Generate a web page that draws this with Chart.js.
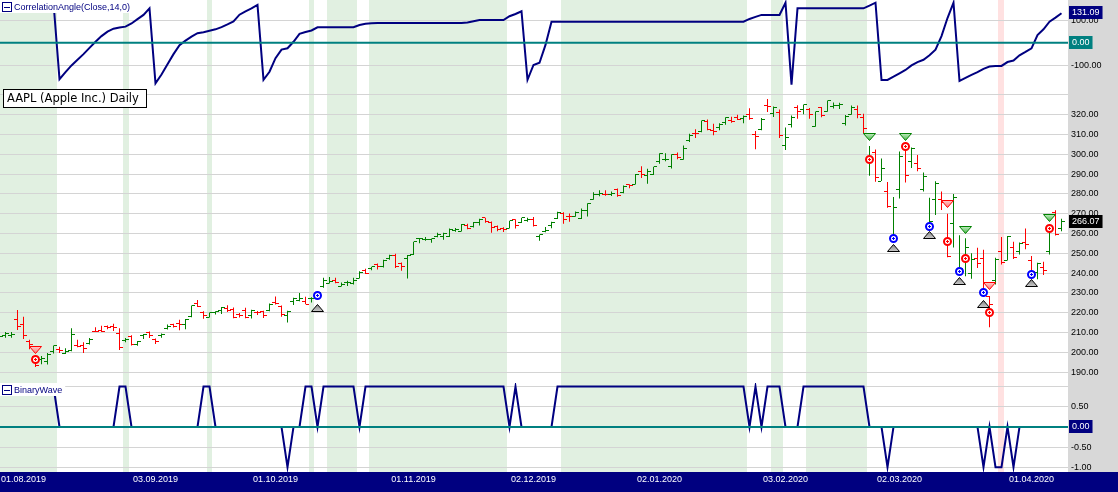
<!DOCTYPE html>
<html>
<head>
<meta charset="utf-8">
<script src="https://cdn.jsdelivr.net/npm/chart.js@4.4.1/dist/chart.umd.min.js"></script>
<style>
  html, body { margin: 0; padding: 0; background: #fff; overflow: hidden; }
  #wrap { position: relative; width: 1118px; height: 492px; }
  #wrap canvas { position: absolute; left: 0; }
  #band { position: absolute; left: 0; top: 472px; width: 1118px; height: 20px; background: #000080; }
</style>
</head>
<body>
<div id="wrap">
  <div id="band"></div>
  <canvas id="top" width="1118" height="88" style="top:0"></canvas>
  <canvas id="mid" width="1118" height="295" style="top:88px"></canvas>
  <canvas id="bot" width="1118" height="109" style="top:383px"></canvas>
</div>
<script>
// AAPL daily, 26.07.2019 .. 08.04.2020 (bar index 0..177)
var tickBars   = [4, 26, 46, 69, 89, 110, 131, 150, 172];
var tickLabels = ['01.08.2019', '03.09.2019', '01.10.2019', '01.11.2019', '02.12.2019',
                  '02.01.2020', '03.02.2020', '02.03.2020', '01.04.2020'];

var open = [
  206.7, 208.5, 208.7, 216.4, 213.9, 205.5, 198.0, 196.3, 195.4, 200.2,
  201.3, 199.6, 201.0, 203.2, 203.5, 204.3, 210.6, 210.9, 213.0, 213.2,
  209.4, 205.9, 207.9, 204.1, 208.5, 210.2, 206.4, 208.4, 212.0, 214.1,
  214.8, 213.9, 218.1, 224.8, 220.0, 217.7, 220.0, 221.1, 222.0, 221.4,
  219.0, 221.0, 218.6, 220.0, 220.5, 220.9, 225.1, 223.1, 218.4, 225.6,
  226.3, 225.8, 227.0, 227.9, 233.0, 234.9, 236.4, 233.4, 235.1, 234.6,
  237.5, 241.2, 242.1, 244.5, 243.2, 247.4, 249.0, 244.8, 247.2, 249.5,
  257.3, 257.1, 256.8, 258.7, 258.7, 258.3, 261.6, 261.1, 263.8, 263.7,
  265.8, 267.9, 265.5, 263.7, 262.6, 262.7, 266.9, 265.6, 266.6, 267.3,
  258.3, 261.1, 263.8, 267.5, 270.0, 268.6, 268.8, 267.8, 271.5, 277.0,
  279.6, 279.8, 279.5, 282.2, 280.5, 284.7, 284.8, 291.1, 289.5, 289.9,
  296.2, 297.2, 293.8, 299.8, 297.2, 307.2, 310.6, 311.6, 316.7, 311.9,
  313.6, 316.3, 317.2, 318.6, 317.9, 320.3, 310.1, 312.6, 324.5, 320.5,
  320.9, 304.3, 315.3, 323.5, 322.6, 322.4, 314.2, 323.6, 321.5, 324.2,
  324.7, 315.4, 320.0, 322.6, 318.6, 297.3, 301.0, 286.5, 281.1, 257.3,
  282.3, 303.7, 296.4, 295.5, 282.0, 263.8, 277.1, 277.4, 255.9, 264.9,
  242.0, 247.5, 239.8, 247.4, 247.2, 228.1, 236.4, 250.8, 246.5, 252.8,
  250.7, 255.6, 246.5, 240.3, 242.8, 250.9, 270.8, 262.7
];
var high = [
  209.7, 210.2, 210.2, 221.4, 218.0, 206.4, 198.6, 198.1, 199.6, 203.5,
  202.8, 202.1, 212.1, 206.4, 205.1, 207.2, 212.7, 213.4, 213.6, 214.4,
  212.1, 207.2, 208.6, 205.7, 209.3, 210.5, 207.0, 209.5, 214.0, 214.4,
  216.4, 216.8, 223.7, 226.4, 220.8, 220.1, 220.8, 222.9, 223.8, 222.6,
  219.8, 222.5, 221.5, 220.9, 221.0, 224.6, 228.2, 223.6, 221.0, 227.5,
  229.9, 228.1, 227.8, 230.4, 237.6, 238.1, 237.7, 235.2, 236.2, 237.6,
  241.0, 242.2, 243.2, 244.8, 246.7, 249.3, 249.8, 245.3, 249.2, 255.9,
  257.8, 258.2, 257.5, 260.4, 260.4, 262.5, 262.8, 264.8, 264.9, 265.8,
  267.4, 268.0, 266.1, 264.0, 263.2, 266.4, 267.2, 268.0, 268.0, 268.3,
  259.5, 263.3, 265.9, 271.0, 270.8, 270.1, 271.1, 272.6, 275.3, 280.8,
  281.8, 281.9, 281.2, 282.7, 284.3, 284.9, 290.0, 294.0, 292.7, 293.7,
  300.6, 300.6, 300.0, 300.9, 304.4, 310.4, 312.7, 317.1, 317.6, 315.5,
  315.7, 318.7, 319.0, 320.0, 319.6, 323.3, 311.8, 318.4, 327.9, 324.1,
  322.7, 313.5, 319.6, 324.8, 325.2, 323.4, 321.6, 323.9, 327.2, 326.2,
  326.0, 319.8, 324.6, 324.7, 320.5, 304.2, 302.5, 297.9, 286.0, 278.4,
  301.4, 304.0, 303.4, 299.6, 290.8, 278.1, 286.4, 281.2, 270.0, 279.9,
  259.1, 257.6, 250.0, 252.8, 251.8, 228.5, 247.7, 258.3, 258.7, 255.9,
  255.5, 262.5, 248.7, 245.2, 245.7, 263.1, 271.7, 267.4
];
var low = [
  206.3, 207.3, 207.3, 211.3, 206.7, 201.6, 192.6, 194.0, 193.8, 199.4,
  199.6, 199.2, 200.5, 202.6, 199.7, 203.9, 210.3, 210.3, 211.7, 210.8,
  201.2, 205.1, 203.5, 203.3, 206.7, 207.2, 204.2, 207.3, 211.5, 212.5,
  211.1, 211.7, 217.7, 222.9, 217.0, 217.6, 219.1, 219.4, 220.4, 217.2,
  217.6, 217.2, 217.1, 218.8, 217.3, 220.8, 224.2, 217.9, 215.1, 223.9,
  225.8, 224.3, 225.1, 227.3, 232.6, 234.7, 234.9, 233.2, 233.5, 234.3,
  237.3, 239.6, 241.4, 241.8, 242.9, 246.7, 242.6, 241.2, 237.3, 249.2,
  255.1, 256.3, 255.4, 258.1, 256.9, 258.3, 260.9, 261.0, 262.1, 263.0,
  264.0, 265.4, 260.4, 261.2, 260.8, 262.5, 262.5, 265.3, 265.9, 263.5,
  256.3, 260.7, 262.7, 267.3, 264.9, 265.9, 268.5, 267.3, 268.6, 277.0,
  278.8, 279.1, 279.0, 278.6, 280.4, 282.9, 284.7, 288.1, 285.2, 289.5,
  295.2, 296.5, 292.8, 297.5, 297.2, 306.2, 308.3, 311.2, 312.2, 309.6,
  312.1, 315.0, 316.0, 317.3, 315.7, 317.5, 302.6, 312.2, 321.4, 318.8,
  308.3, 302.2, 313.6, 318.0, 320.3, 318.0, 313.9, 318.7, 321.5, 323.2,
  322.9, 314.6, 320.0, 318.2, 310.5, 289.2, 286.1, 286.5, 273.0, 256.4,
  277.7, 285.8, 293.1, 291.4, 281.2, 263.0, 269.4, 271.9, 248.0, 253.0,
  240.0, 238.4, 237.1, 242.6, 228.0, 212.6, 234.3, 244.3, 246.4, 247.1,
  249.4, 252.0, 239.1, 236.9, 239.0, 249.4, 259.0, 261.2
];
var close = [
  207.74, 209.68, 208.78, 213.04, 208.43, 204.02, 193.34, 197.00, 199.04, 203.43,
  200.99, 200.48, 208.97, 202.75, 201.74, 206.50, 210.35, 210.36, 212.64, 212.46,
  202.64, 206.49, 204.16, 205.53, 209.01, 208.74, 205.70, 209.19, 213.28, 213.26,
  214.17, 216.70, 223.59, 223.09, 218.75, 219.90, 220.70, 222.77, 220.96, 217.73,
  218.72, 217.68, 221.03, 219.89, 218.82, 223.97, 224.59, 218.96, 220.82, 227.01,
  227.06, 224.40, 227.03, 230.09, 236.21, 235.87, 235.32, 234.37, 235.28, 236.41,
  240.51, 239.96, 243.18, 243.58, 246.58, 249.05, 243.29, 243.26, 248.76, 255.82,
  257.50, 257.13, 257.24, 259.43, 260.14, 262.20, 261.96, 264.47, 262.64, 265.76,
  267.10, 266.29, 263.19, 262.01, 261.78, 266.37, 264.29, 267.84, 267.25, 264.16,
  259.45, 261.74, 265.58, 270.71, 266.92, 268.48, 270.77, 271.46, 275.15, 279.86,
  280.41, 279.74, 280.02, 279.44, 284.00, 284.27, 289.91, 289.80, 291.52, 293.65,
  300.35, 297.43, 299.80, 298.39, 303.19, 309.63, 310.33, 316.96, 312.68, 311.34,
  315.24, 318.73, 316.57, 317.70, 319.23, 318.31, 308.95, 317.69, 324.34, 323.87,
  309.51, 308.66, 318.85, 321.45, 325.21, 320.03, 321.55, 319.61, 327.20, 324.87,
  324.95, 319.00, 323.62, 320.30, 313.05, 298.18, 288.08, 292.65, 273.52, 273.36,
  298.81, 289.32, 302.74, 292.92, 289.03, 266.17, 285.34, 275.43, 248.23, 277.97,
  242.21, 252.86, 246.67, 244.78, 229.24, 224.37, 246.88, 245.52, 258.44, 247.74,
  254.81, 254.29, 240.91, 244.93, 241.41, 262.47, 259.43, 266.07
];

// CorrelationAngle(Close,14,0)
var corr = [
  null, null, null, null, null, null, null, null, null,
  178, -161, -130, -100, -75, -50, -22, 5, 30, 50,
  63, 68, 72, 86, 105, 124, 153, -179, -140, -95,
  -50, -10, 10, 28, 43, 47, 54, 60, 70, 82,
  95, 125, 140, 153, 168, -164, -128, -68, -30, -24,
  5, 40, 48, 55, 69, 69, 69, 69, 69, 69,
  69, 79, 85, 87, 88, 88, 88, 88, 88, 88,
  88, 88, 88, 88, 88, 88, 88, 88, 88, 90,
  96, 101, 101, 101, 101, 101, 118, 128, 140, -164,
  -98, -88, -9, 94, 94, 94, 94, 94, 94, 94,
  94, 94, 94, 94, 94, 94, 94, 94, 94, 94,
  94, 94, 94, 94, 94, 94, 94, 94, 94, 94,
  94, 94, 94, 94, 94, 94, 106, 115, 124, 124,
  124, 124, 178, -185, 153, 153, 153, 153, 153, 153,
  153, 153, 153, 153, 153, 153, 165, 178, -164, -164,
  -150, -135, -120, -100, -85, -75, -55, -30, 30, 110,
  178, -169, -155, -142, -130, -115, -105, -103, -102, -85,
  -78, -55, -40, -24, 35, 60, 94, 112, 131.09
];

// BinaryWave
var wave = [
  1, 1, 1, 1, 1, 1, 1, 1, 1, 1,
  0, 0, 0, 0, 0, 0, 0, 0, 0, 0,
  1, 1, 0, 0, 0, 0, 0, 0, 0, 0,
  0, 0, 0, 0, 1, 1, 0, 0, 0, 0,
  0, 0, 0, 0, 0, 0, 0, 0, -1, 0,
  0, 1, 1, 0, 1, 1, 1, 1, 1, 1,
  0, 1, 1, 1, 1, 1, 1, 1, 1, 1,
  1, 1, 1, 1, 1, 1, 1, 1, 1, 1,
  1, 1, 1, 1, 1, 0, 1, 0, 0, 0,
  0, 0, 0, 1, 1, 1, 1, 1, 1, 1,
  1, 1, 1, 1, 1, 1, 1, 1, 1, 1,
  1, 1, 1, 1, 1, 1, 1, 1, 1, 1,
  1, 1, 1, 1, 1, 0, 1, 0, 1, 1,
  1, 0, 0, 0, 1, 1, 1, 1, 1, 1,
  1, 1, 1, 1, 1, 0, 0, 0, -1, 0,
  0, 0, 0, 0, 0, 0, 0, 0, 0, 0,
  0, 0, 0, 0, -1, 0, -1, -1, 0, -1,
  0, 0, 0, 0, 0, 0, 0, 0
];

// signal markers on the price panel
var redRingBars  = [6, 145, 151, 158, 161, 165, 175];
var redRingVals  = [196.5, 297.5, 303.9, 256.2, 247.5, 220.2, 262.6];
var blueRingBars = [53, 149, 155, 160, 164, 172];
var blueRingVals = [228.9, 257.6, 263.4, 240.7, 230.3, 239.4];
var greenDnBars  = [145, 151, 161, 175];
var greenDnVals  = [308.5, 308.5, 262.0, 268.0];
var redDnBars    = [6, 158, 165];
var redDnVals    = [201.2, 274.9, 233.3];
var grayUpBars   = [53, 149, 155, 160, 164, 172];
var grayUpVals   = [222.2, 252.5, 259.2, 235.9, 224.5, 235.0];

var topTicks = [100, 0, -100];
var midTicks = [190, 200, 210, 220, 230, 240, 250, 260, 270, 280, 290, 300, 310, 320, 330];
var botTicks = [1, 0.5, 0, -0.5, -1];

// ---------------------------------------------------------------
var FONT = "'Liberation Sans', Arial, sans-serif";
var NAVY = '#000080', TEAL = '#008080', GRID = '#d4d4d4', AXISBG = '#d8d8d8';
var GREEN = '#008000', RED = '#ff0000';
var X_MIN = 1 / 12, X_MAX = X_MIN + 178;   // 6 px per bar on the 1068 px plot

var idx = close.map(function (v, i) { return i; });
function pts(xs, ys) { return xs.map(function (x, k) { return {x: x, y: ys[k]}; }); }
function barColor(i) { return close[i] >= open[i] ? GREEN : RED; }

function mk(w, h, draw) {
  var c = document.createElement('canvas');
  c.width = w; c.height = h;
  draw(c.getContext('2d'));
  return c;
}
// open tick to the left of the bar, close tick to the right
var tickImg = {};
[GREEN, RED].forEach(function (col) {
  tickImg[col] = {
    open:  mk(7, 1, function (g) { g.fillStyle = col; g.fillRect(0, 0, 3, 1); }),
    close: mk(7, 1, function (g) { g.fillStyle = col; g.fillRect(4, 0, 3, 1); })
  };
});
function ring(col) {
  return mk(11, 11, function (g) {
    g.beginPath(); g.arc(5.5, 5.5, 3.5, 0, Math.PI * 2);
    g.fillStyle = '#fff'; g.fill();
    g.strokeStyle = col; g.lineWidth = 2; g.stroke();
    g.fillStyle = col; g.fillRect(5, 4, 1, 3); g.fillRect(4, 5, 3, 1);
  });
}
function tri(up, light, dark, edge) {
  return mk(13, 8, function (g) {
    var gr = g.createLinearGradient(0, 0, 0, 8);
    gr.addColorStop(0, up ? dark : light);
    gr.addColorStop(1, up ? light : dark);
    g.beginPath();
    if (up) { g.moveTo(6.5, 0.5); g.lineTo(12.5, 7.5); g.lineTo(0.5, 7.5); }
    else    { g.moveTo(0.5, 0.5); g.lineTo(12.5, 0.5); g.lineTo(6.5, 7.5); }
    g.closePath();
    g.fillStyle = gr; g.fill();
    g.strokeStyle = edge; g.lineWidth = 1; g.stroke();
  });
}

function xScale(show) {
  var s = {
    type: 'linear', min: X_MIN, max: X_MAX, offset: false, display: show,
    backgroundColor: NAVY,
    grid: {display: false, drawTicks: false}, border: {display: false},
    ticks: {
      color: '#fff', font: {family: FONT, size: 9}, padding: 2,
      autoSkip: false, maxRotation: 0,
      callback: function (v) { var k = tickBars.indexOf(v); return k < 0 ? '' : tickLabels[k]; }
    },
    afterBuildTicks: function (sc) { sc.ticks = tickBars.map(function (v) { return {value: v}; }); }
  };
  if (show) s.afterFit = function (sc) { sc.height = 20; sc.paddingLeft = 0; sc.paddingRight = 0; };
  return s;
}
function yScale(min, max, ticks, hide) {
  return {
    position: 'right', min: min, max: max, backgroundColor: AXISBG,
    grid: {color: GRID, drawTicks: false}, border: {display: false},
    ticks: {
      color: '#000', font: {family: FONT, size: 9}, padding: 3,
      callback: function (v) { return v === hide ? '' : v.toFixed(2); }
    },
    afterBuildTicks: function (s) { s.ticks = ticks.map(function (v) { return {value: v}; }); },
    afterFit: function (s) { s.width = 50; s.paddingTop = 0; s.paddingBottom = 0; }
  };
}

// shaded columns: green while the wave stays at +1, pink while it stays at -1
var bandPlugin = {
  id: 'bands',
  beforeDraw: function (chart) {
    var ctx = chart.ctx, a = chart.chartArea, xs = chart.scales.x;
    ctx.save();
    for (var i = 0; i < wave.length; i++) {
      var prev = i === 0 ? wave[0] : wave[i - 1], col = null;
      if (wave[i] === 1 && prev === 1) col = '#e1f0e1';
      else if (wave[i] === -1 && prev === -1) col = '#ffe1e1';
      if (!col) continue;
      var x0 = Math.round(xs.getPixelForValue(i - 0.5)), x1 = Math.round(xs.getPixelForValue(i + 0.5));
      ctx.fillStyle = col;
      ctx.fillRect(x0, a.top, x1 - x0, a.bottom - a.top);
    }
    ctx.restore();
  }
};

function panelLabel(text) {
  return {
    id: 'panelLabel',
    afterDraw: function (chart) {
      var ctx = chart.ctx, y = chart.chartArea.top;
      ctx.save();
      ctx.font = '9px ' + FONT;
      var w = ctx.measureText(text).width;
      ctx.fillStyle = '#fff';
      ctx.fillRect(0, y, w + 17, 13);
      ctx.strokeStyle = NAVY; ctx.lineWidth = 1;
      ctx.strokeRect(2.5, y + 2.5, 9, 9);
      ctx.beginPath(); ctx.moveTo(4, y + 7.5); ctx.lineTo(10, y + 7.5); ctx.stroke();
      ctx.fillStyle = NAVY; ctx.textBaseline = 'middle';
      ctx.fillText(text, 14, y + 7.5);
      ctx.restore();
    }
  };
}

function valueBoxes(list) {
  return {
    id: 'valueBoxes',
    afterDraw: function (chart) {
      var ys = chart.scales.y, ctx = chart.ctx;
      ctx.save();
      ctx.font = '9px ' + FONT; ctx.textBaseline = 'middle';
      list.forEach(function (b) {
        var y = Math.round(ys.getPixelForValue(b.value));
        var w = ctx.measureText(b.text).width;
        ctx.fillStyle = b.bg;
        ctx.fillRect(ys.left + 1, y - 7, w + 6, 13);
        ctx.fillStyle = '#fff';
        ctx.fillText(b.text, ys.left + 4, y);
      });
      ctx.restore();
    }
  };
}

var crisp = {
  id: 'crisp',
  beforeDatasetsDraw: function (chart) { chart.ctx.imageSmoothingEnabled = false; }
};

var titleBox = {
  id: 'titleBox',
  afterDraw: function (chart) {
    var ctx = chart.ctx;
    ctx.save();
    ctx.fillStyle = '#fff'; ctx.fillRect(3.5, 1.5, 143, 18);
    ctx.strokeStyle = '#000'; ctx.lineWidth = 1; ctx.strokeRect(3.5, 1.5, 143, 18);
    ctx.fillStyle = '#000'; ctx.font = "11.5px 'DejaVu Sans', sans-serif"; ctx.textBaseline = 'middle';
    ctx.fillText('AAPL (Apple Inc.) Daily', 7, 11);
    ctx.restore();
  }
};

var common = {
  responsive: false, animation: false, events: [],
  layout: {padding: 0, autoPadding: false},
  plugins: {legend: {display: false}, tooltip: {enabled: false}}
};
function opts(scales) { return Object.assign({}, common, {scales: scales}); }

var last = close.length - 1;

// --- top: CorrelationAngle ---
new Chart(document.getElementById('top'), {
  type: 'line',
  data: {
    datasets: [
      {data: [{x: X_MIN, y: 0}, {x: X_MAX, y: 0}], borderColor: TEAL, borderWidth: 2, pointRadius: 0, order: 0},
      {data: pts(idx, corr), borderColor: NAVY, borderWidth: 2, pointRadius: 0, tension: 0, order: 1}
    ]
  },
  options: opts({x: xScale(false), y: yScale(-200, 190, topTicks, null)}),
  plugins: [bandPlugin, panelLabel('CorrelationAngle(Close,14,0)'),
    valueBoxes([{value: 0, text: '0.00', bg: TEAL}, {value: corr[last], text: corr[last].toFixed(2), bg: NAVY}])]
});

// --- middle: OHLC price bars ---
new Chart(document.getElementById('mid'), {
  type: 'bar',
  data: {
    datasets: [
      {type: 'scatter', data: pts(redDnBars, redDnVals), pointStyle: tri(false, '#ffd0d0', '#ff7070', RED), pointRadius: 5, order: 0},
      {type: 'scatter', data: pts(greenDnBars, greenDnVals), pointStyle: tri(false, '#c8f0c8', '#40b040', GREEN), pointRadius: 5, order: 0},
      {type: 'scatter', data: pts(grayUpBars, grayUpVals), pointStyle: tri(true, '#d0d0d0', '#808080', '#000'), pointRadius: 5, order: 0},
      {type: 'scatter', data: pts(redRingBars, redRingVals), pointStyle: ring(RED), pointRadius: 5, order: 0},
      {type: 'scatter', data: pts(blueRingBars, blueRingVals), pointStyle: ring('#0000ff'), pointRadius: 5, order: 0},
      {type: 'scatter', data: pts(idx, open), pointRadius: 3, order: 1,
        pointStyle: function (c) { return tickImg[barColor(c.dataIndex)].open; }},
      {type: 'scatter', data: pts(idx, close), pointRadius: 3, order: 1,
        pointStyle: function (c) { return tickImg[barColor(c.dataIndex)].close; }},
      {type: 'bar', data: idx.map(function (i) { return {x: i, y: [low[i], high[i]]}; }),
        backgroundColor: idx.map(barColor), barThickness: 1, inflateAmount: 0, borderWidth: 0, order: 2}
    ]
  },
  options: opts({x: xScale(false), y: yScale(184.5, 333.5, midTicks, 330)}),
  plugins: [bandPlugin, crisp, titleBox,
    valueBoxes([{value: close[last], text: close[last].toFixed(2), bg: '#000'}])]
});

// --- bottom: BinaryWave ---
new Chart(document.getElementById('bot'), {
  type: 'line',
  data: {
    datasets: [
      {data: [{x: X_MIN, y: 0}, {x: X_MAX, y: 0}], borderColor: TEAL, borderWidth: 2, pointRadius: 0, order: 0},
      {data: pts(idx, wave), borderColor: NAVY, borderWidth: 2, pointRadius: 0, tension: 0, order: 1}
    ]
  },
  options: opts({x: xScale(true), y: yScale(-1.12, 1.09, botTicks, 1)}),
  plugins: [bandPlugin, panelLabel('BinaryWave'),
    valueBoxes([{value: wave[last], text: wave[last].toFixed(2), bg: NAVY}])]
});
</script>
</body>
</html>
